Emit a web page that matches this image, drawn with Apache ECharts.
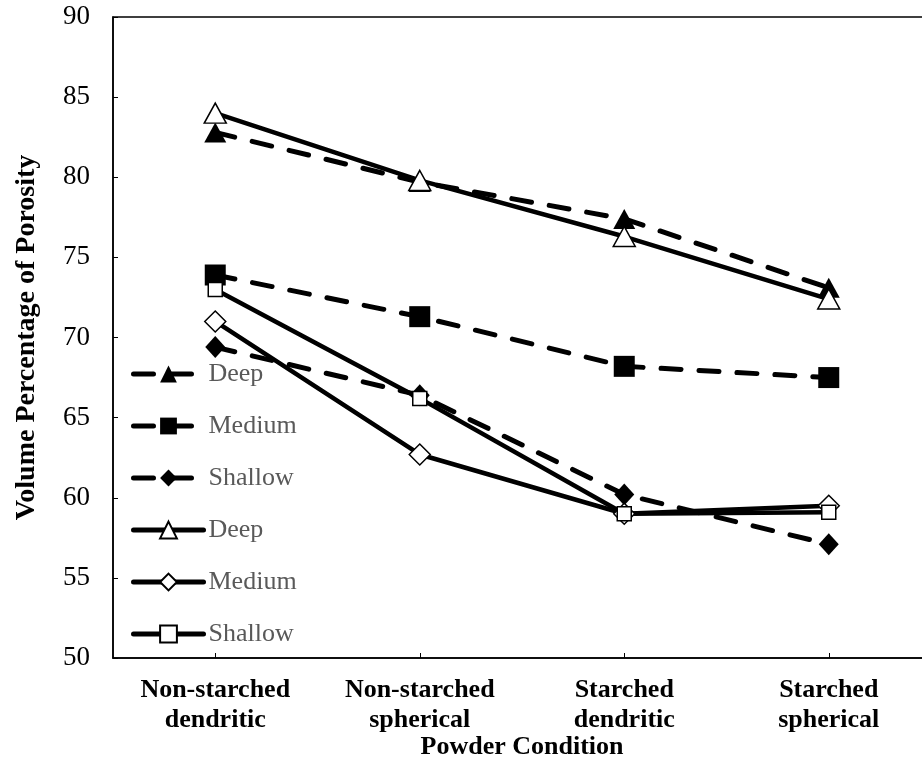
<!DOCTYPE html>
<html>
<head>
<meta charset="utf-8">
<script src="https://cdn.jsdelivr.net/npm/echarts@6/dist/echarts.min.js"></script>
<style>
html,body{margin:0;padding:0;background:#fff;}
#chart{width:922px;height:759px;}
</style>
</head>
<body>
<div id="chart"></div>
<script>
const categories = ['Non-starched\ndendritic', 'Non-starched\nspherical', 'Starched\ndendritic', 'Starched\nspherical'];
const yTicks = [50, 55, 60, 65, 70, 75, 80, 85, 90];
const legendLabels = ['Deep', 'Medium', 'Shallow', 'Deep', 'Medium', 'Shallow'];
const dashedDeep = [82.8, 79.7, 77.4, 73.1];
const dashedMedium = [73.9, 71.3, 68.2, 67.5];
const dashedShallow = [69.4, 66.4, 60.2, 57.1];
const solidDeep = [84.0, 79.8, 76.3, 72.4];
const solidMedium = [71.0, 62.7, 59.0, 59.5];
const solidShallow = [73.0, 66.2, 59.0, 59.1];

const serif = '"Liberation Serif", "Times New Roman", serif';
const seriesNames = ['d0', 'd1', 'd2', 's0', 's1', 's2'];
const seriesData = [dashedDeep, dashedMedium, dashedShallow, solidDeep, solidMedium, solidShallow];
const symbols = ['triangle', 'rect', 'diamond', 'triangle', 'diamond', 'rect'];
const symbolSizes = [[22, 20], 21, [20, 22], [22, 20], 21, 14];
const filled = [true, true, true, false, false, false];

const series = seriesData.map((d, i) => ({
  name: seriesNames[i],
  type: 'line',
  data: d,
  symbol: symbols[i],
  symbolSize: symbolSizes[i],
  showAllSymbol: true,
  lineStyle: {
    color: '#000',
    width: filled[i] ? 5 : 4.5,
    type: filled[i] ? [20, 18] : 'solid',
    cap: 'round'
  },
  itemStyle: {
    color: filled[i] ? '#000' : '#fff',
    borderColor: '#000',
    borderWidth: filled[i] ? 0 : 1.5
  },
  emphasis: {disabled: true},
  animation: false
}));

const chart = echarts.init(document.getElementById('chart'), null, {renderer: 'canvas'});
chart.setOption({
  backgroundColor: '#fff',
  animation: false,
  grid: {
    left: 113, top: 17, width: 818, height: 641,
    outerBoundsMode: 'none',
    containLabel: false,
    show: true, borderColor: '#000', borderWidth: 1.5, backgroundColor: 'transparent'
  },
  legend: {
    orient: 'vertical',
    left: 126, top: 356,
    itemWidth: 70, itemHeight: 21, itemGap: 26,
    data: seriesNames,
    formatter: name => legendLabels[seriesNames.indexOf(name)],
    textStyle: {fontFamily: serif, fontSize: 26, lineHeight: 26, color: '#595959', padding: [0, 0, 0, 0]},
    lineStyle: {width: 5},
    selectedMode: false
  },
  xAxis: {
    type: 'category',
    data: categories,
    boundaryGap: true,
    axisLine: {lineStyle: {color: '#000', width: 1.5}},
    axisTick: {show: true, alignWithLabel: true, inside: true, length: 5, lineStyle: {color: '#000', width: 1}},
    axisLabel: {fontFamily: serif, fontSize: 26, fontWeight: 'bold', color: '#000', lineHeight: 30, margin: 17, interval: 0},
    name: 'Powder Condition',
    nameLocation: 'middle',
    nameGap: 76,
    nameMoveOverlap: false,
    nameTextStyle: {fontFamily: serif, fontSize: 26, fontWeight: 'bold', color: '#000'}
  },
  yAxis: {
    type: 'value',
    min: yTicks[0], max: yTicks[yTicks.length - 1], interval: 5,
    axisLine: {show: true, lineStyle: {color: '#000', width: 1.5}},
    axisTick: {show: true, inside: true, length: 5, lineStyle: {color: '#000', width: 1}},
    splitLine: {show: false},
    axisLabel: {fontFamily: serif, fontSize: 27, color: '#000', margin: 23},
    name: 'Volume Percentage of Porosity',
    nameLocation: 'middle',
    nameGap: 72,
    nameMoveOverlap: false,
    nameTextStyle: {fontFamily: serif, fontSize: 28, fontWeight: 'bold', color: '#000'}
  },
  series: series
});
</script>
</body>
</html>
